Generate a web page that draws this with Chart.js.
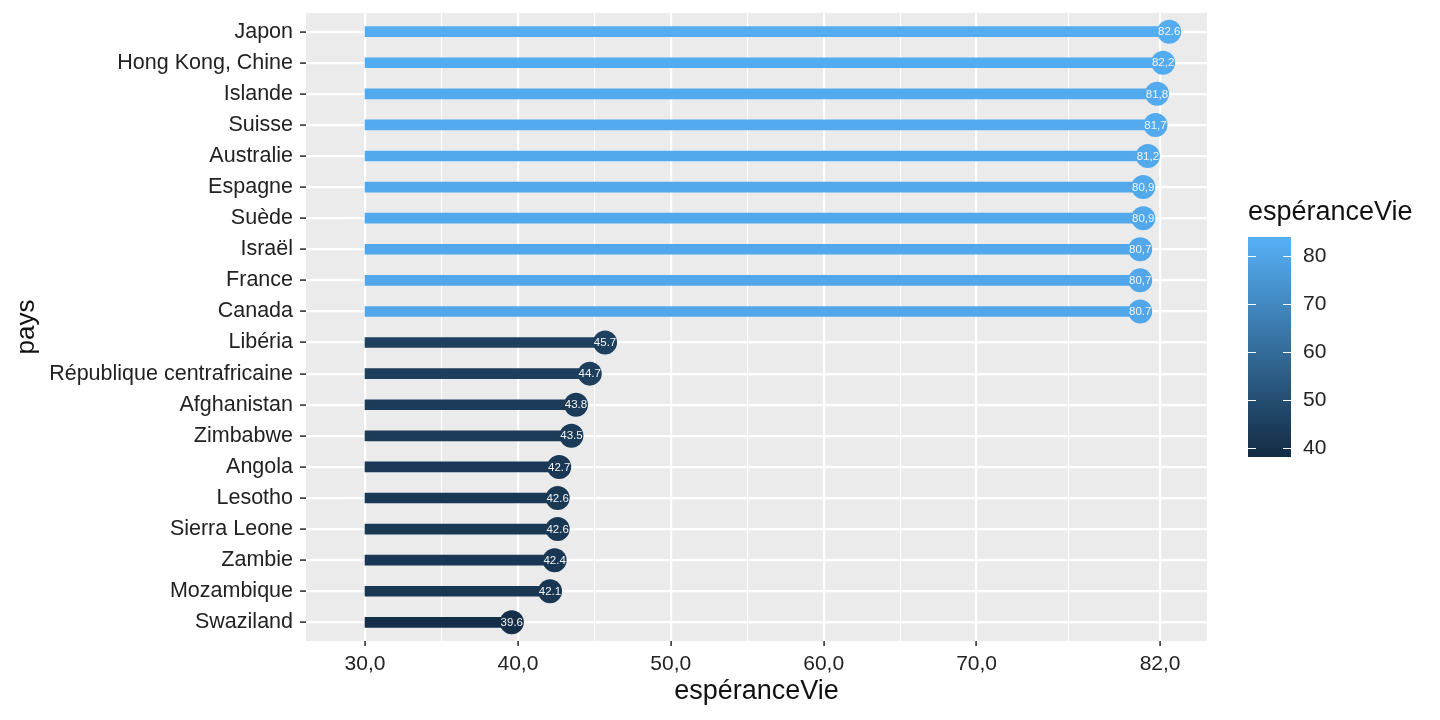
<!DOCTYPE html>
<html>
<head>
<meta charset="utf-8">
<script src="https://cdn.jsdelivr.net/npm/chart.js@4.4.0/dist/chart.umd.min.js"></script>
<style>
  html, body { margin: 0; padding: 0; background: #fff; }
  #wrap { width: 1440px; height: 720px; }
</style>
</head>
<body>
<div id="wrap"><canvas id="lollipop" width="1440" height="720"></canvas></div>
<script>
// Data
const pays = ['Japon', 'Hong Kong, Chine', 'Islande', 'Suisse', 'Australie', 'Espagne', 'Suède', 'Israël',
  'France', 'Canada', 'Libéria', 'République centrafricaine', 'Afghanistan', 'Zimbabwe', 'Angola',
  'Lesotho', 'Sierra Leone', 'Zambie', 'Mozambique', 'Swaziland'];
const esperanceVie = [82.6, 82.2, 81.8, 81.7, 81.2, 80.9, 80.9, 80.7, 80.7, 80.7,
  45.7, 44.7, 43.8, 43.5, 42.7, 42.6, 42.6, 42.4, 42.1, 39.6];
const etiquettes = ['82.6', '82,2', '81,8', '81,7', '81,2', '80,9', '80,9', '80,7', '80,7', '80.7',
  '45.7', '44.7', '43.8', '43.5', '42.7', '42.6', '42.6', '42.4', '42.1', '39.6'];
const xTicks = [30, 40, 50, 60, 70, 82];
const xTickLabels = ['30,0', '40,0', '50,0', '60,0', '70,0', '82,0'];
const xMinorTicks = [35, 45, 55, 65, 76];
const legendTicks = [40, 50, 60, 70, 80];
const segmentStart = 30;

const FONT = "'Liberation Sans', Arial, Helvetica, sans-serif";
Chart.defaults.font.family = FONT;

// colour scale (ggplot default blues)
const LOW = [19, 43, 67], HIGH = [86, 177, 247];
const colMin = 38.2, colMax = 84;
function colourFor(v) {
  const t = Math.max(0, Math.min(1, (v - colMin) / (colMax - colMin)));
  const c = LOW.map((l, k) => Math.round(l + (HIGH[k] - l) * t));
  return `rgb(${c[0]},${c[1]},${c[2]})`;
}

const panelBg = {
  id: 'panelBg',
  beforeDraw(chart) {
    const { ctx, chartArea: a } = chart;
    ctx.save();
    ctx.fillStyle = '#EBEBEB';
    ctx.fillRect(a.left, a.top, a.right - a.left, a.bottom - a.top);
    ctx.restore();
  }
};

const dotLabels = {
  id: 'dotLabels',
  afterDatasetsDraw(chart) {
    const { ctx } = chart;
    const meta = chart.getDatasetMeta(1);
    ctx.save();
    ctx.fillStyle = '#F4F4F4';
    ctx.font = `11.5px ${FONT}`;
    ctx.textAlign = 'center';
    ctx.textBaseline = 'middle';
    meta.data.forEach((pt, i) => ctx.fillText(etiquettes[i], pt.x, pt.y + 0.5));
    ctx.restore();
  }
};

const colourLegend = {
  id: 'colourLegend',
  afterDraw(chart) {
    const { ctx } = chart;
    const left = 1248, width = 43, top = 237, bottom = 457;
    const yOf = v => bottom - (v - colMin) / (colMax - colMin) * (bottom - top);
    ctx.save();
    // title
    ctx.fillStyle = '#111';
    ctx.font = `27px ${FONT}`;
    ctx.textAlign = 'left';
    ctx.textBaseline = 'alphabetic';
    ctx.fillText('espéranceVie', left, 220);
    // bar
    const grad = ctx.createLinearGradient(0, bottom, 0, top);
    grad.addColorStop(0, colourFor(colMin));
    grad.addColorStop(1, colourFor(colMax));
    ctx.fillStyle = grad;
    ctx.fillRect(left, top, width, bottom - top);
    // ticks + labels
    ctx.strokeStyle = '#fff';
    ctx.lineWidth = 1;
    ctx.fillStyle = '#222';
    ctx.font = `21px ${FONT}`;
    ctx.textBaseline = 'middle';
    legendTicks.forEach(v => {
      const y = Math.round(yOf(v)) + 0.5;
      ctx.beginPath();
      ctx.moveTo(left, y); ctx.lineTo(left + 8, y);
      ctx.moveTo(left + width - 8, y); ctx.lineTo(left + width, y);
      ctx.stroke();
      ctx.fillText(String(v), left + 55, y);
    });
    ctx.restore();
  }
};

const allXTicks = [...xTicks, ...xMinorTicks].sort((a, b) => a - b);
const isMajor = v => xTicks.includes(v);

new Chart(document.getElementById('lollipop'), {
  type: 'bar',
  data: {
    datasets: [
      {
        type: 'bar',
        data: esperanceVie.map((v, i) => ({ x: [segmentStart, v], y: i })),
        backgroundColor: c => colourFor(esperanceVie[c.dataIndex]),
        borderWidth: 0,
        barThickness: 10,
        xAxisID: 'x', yAxisID: 'y',
        order: 2
      },
      {
        type: 'scatter',
        data: esperanceVie.map((v, i) => ({ x: v, y: i })),
        pointRadius: 12,
        pointHoverRadius: 12,
        pointBackgroundColor: c => colourFor(esperanceVie[c.dataIndex]),
        pointBorderWidth: 0,
        xAxisID: 'x', yAxisID: 'y',
        order: 1
      }
    ]
  },
  options: {
    indexAxis: 'y',
    responsive: false,
    animation: false,
    events: [],
    layout: { padding: { top: 13, right: 233, bottom: 0, left: 0 } },
    plugins: { legend: { display: false }, tooltip: { enabled: false } },
    scales: {
      x: {
        type: 'linear',
        position: 'bottom',
        min: 26.14,
        max: 85.07,
        afterBuildTicks: s => { s.ticks = allXTicks.map(v => ({ value: v })); },
        afterFit: s => { s.height = 79; s.paddingLeft = 0; s.paddingRight = 0; },
        border: { display: false },
        grid: {
          color: '#FFFFFF',
          lineWidth: c => isMajor(c.tick.value) ? 2.2 : 1.1,
          tickLength: 5,
          tickWidth: 1.6,
          tickColor: c => isMajor(c.tick.value) ? '#333333' : 'rgba(0,0,0,0)'
        },
        ticks: {
          autoSkip: false,
          maxRotation: 0,
          padding: 6,
          color: '#222',
          font: { size: 21 },
          callback: v => { const k = xTicks.indexOf(v); return k < 0 ? '' : xTickLabels[k]; }
        },
        title: { display: true, text: 'espéranceVie', color: '#111', font: { size: 27 }, padding: { top: 0, bottom: 12 } }
      },
      y: {
        type: 'linear',
        min: -0.6,
        max: 19.6,
        reverse: true,
        offset: false,
        afterBuildTicks: s => { s.ticks = pays.map((p, i) => ({ value: i })); },
        afterFit: s => { s.width = 306; s.paddingTop = 0; s.paddingBottom = 0; },
        border: { display: false },
        grid: { offset: false, color: '#FFFFFF', lineWidth: 2.2, tickLength: 6, tickWidth: 1.6, tickColor: '#333333' },
        ticks: {
          autoSkip: false,
          padding: 7,
          color: '#222',
          font: { size: 21.5 },
          callback: v => pays[v]
        },
        title: { display: true, text: 'pays', color: '#111', font: { size: 26 }, padding: { top: 11, bottom: 0 } }
      }
    }
  },
  plugins: [panelBg, dotLabels, colourLegend]
});
</script>
</body>
</html>
